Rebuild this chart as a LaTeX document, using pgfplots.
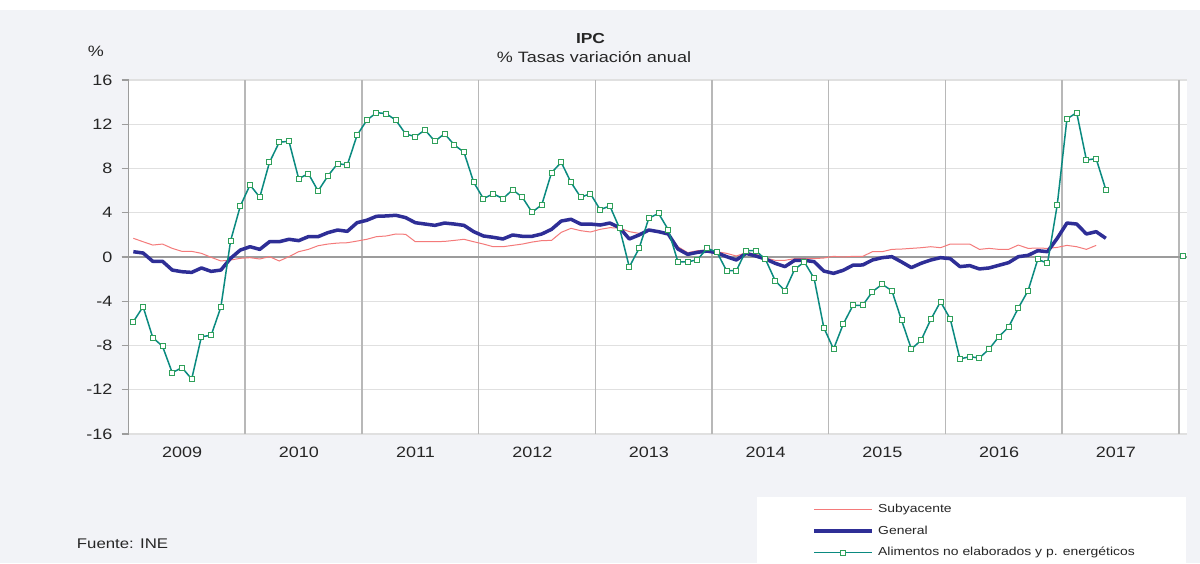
\documentclass[border=0pt]{standalone}
\usepackage{fontspec}
\setmainfont{Liberation Sans}[FakeStretch=1.2]
\usepackage{pgfplots}
\usepackage{pgfplotstable}
\pgfplotsset{compat=1.18}
\definecolor{bgc}{HTML}{F2F3F7}
\definecolor{alic}{HTML}{0A8A80}
\definecolor{alimk}{HTML}{2FA05A}
\definecolor{genc}{HTML}{2E2E96}
\definecolor{subc}{HTML}{F47A7A}
\definecolor{gridc}{HTML}{E0E0E0}
\definecolor{yearc}{HTML}{B8B8B8}
\definecolor{zeroc}{HTML}{9C9C9C}
\definecolor{txt}{HTML}{262626}

\pgfplotstableread{
m sub gen ali
0 1.69 0.48 -5.85
1 1.38 0.36 -4.49
2 1.08 -0.39 -7.29
3 1.17 -0.39 -8.07
4 0.78 -1.18 -10.46
5 0.51 -1.33 -10.0
6 0.51 -1.39 -11.03
7 0.33 -0.99 -7.2
8 -0.03 -1.30 -7.08
9 -0.36 -1.18 -4.52
10 -0.27 -0.12 1.47
11 -0.12 0.63 4.61
12 -0.06 0.93 6.51
13 -0.18 0.69 5.40
14 0.03 1.38 8.56
15 -0.36 1.38 10.37
16 0.03 1.60 10.46
17 0.48 1.48 7.08
18 0.69 1.84 7.53
19 1.02 1.84 5.97
20 1.17 2.20 7.32
21 1.26 2.44 8.44
22 1.29 2.32 8.32
23 1.44 3.10 11.0
24 1.6 3.32 12.36
25 1.84 3.68 13.05
26 1.9 3.71 12.96
27 2.08 3.77 12.36
28 2.05 3.56 11.12
29 1.38 3.1 10.88
30 1.38 2.98 11.48
31 1.38 2.86 10.46
32 1.41 3.07 11.15
33 1.5 2.98 10.13
34 1.6 2.86 9.47
35 1.38 2.29 6.75
36 1.17 1.9 5.27
37 0.93 1.78 5.72
38 0.93 1.63 5.27
39 1.05 1.99 6.08
40 1.17 1.87 5.40
41 1.35 1.87 4.04
42 1.48 2.08 4.73
43 1.5 2.5 7.62
44 2.23 3.25 8.56
45 2.59 3.41 6.75
46 2.38 2.98 5.40
47 2.26 2.98 5.72
48 2.5 2.89 4.28
49 2.65 3.07 4.61
50 2.62 2.65 2.59
51 2.29 1.63 -0.9
52 2.14 1.99 0.78
53 2.38 2.44 3.5
54 2.29 2.29 3.95
55 2.14 2.08 2.47
56 0.93 0.72 -0.45
57 0.39 0.24 -0.45
58 0.57 0.42 -0.24
59 0.63 0.54 0.78
60 0.48 0.39 0.45
61 0.33 0.03 -1.24
62 0.09 -0.27 -1.24
63 0.39 0.33 0.57
64 0.27 0.09 0.57
65 -0.09 -0.18 -0.21
66 -0.3 -0.57 -2.14
67 -0.3 -0.87 -3.05
68 -0.15 -0.3 -1.11
69 -0.15 -0.3 -0.45
70 -0.15 -0.42 -1.93
71 -0.09 -1.27 -6.39
72 0.06 -1.48 -8.32
73 0.0 -1.2 -6.06
74 0.06 -0.74 -4.37
75 0.06 -0.72 -4.37
76 0.48 -0.27 -3.13
77 0.48 -0.06 -2.47
78 0.69 0.03 -3.05
79 0.72 -0.45 -5.73
80 0.78 -0.96 -8.32
81 0.84 -0.57 -7.53
82 0.93 -0.27 -5.64
83 0.84 -0.06 -4.04
84 1.17 -0.15 -5.6
85 1.17 -0.87 -9.22
86 1.17 -0.78 -9.01
87 0.69 -1.08 -9.13
88 0.78 -0.99 -8.32
89 0.69 -0.75 -7.2
90 0.69 -0.51 -6.33
91 1.08 0.03 -4.61
92 0.78 0.15 -3.05
93 0.81 0.57 -0.21
94 0.78 0.48 -0.57
95 0.87 1.69 4.70
96 1.05 3.07 12.48
97 0.93 2.98 13.05
98 0.69 2.08 8.77
99 1.05 2.29 8.89
100 nan 1.69 6.08
}\ipcdata

\begin{document}
\begin{tikzpicture}[x=1pt,y=1pt]
\fill[bgc] (0,0) rectangle (1200,563);
\fill[white] (0,553) rectangle (1200,563);
\fill[white] (757,0) rectangle (1186,66.3);
\node[font=\bfseries\fontsize{14.5}{14.5}\selectfont, text=txt, anchor=base, inner sep=0pt] at (590.5,519.7) {IPC};
\node[font=\fontsize{15}{15}\selectfont, text=txt, anchor=base, inner sep=0pt] at (594,500.7) {\% Tasas variación anual};
\node[font=\fontsize{15}{15}\selectfont, text=txt, anchor=base, inner sep=0pt] at (95.8,506.3) {\%};
\node[font=\fontsize{14}{14}\selectfont, text=txt, anchor=base west, inner sep=0pt] at (76.7,14.7) {Fuente: INE};
\begin{axis}[
  at={(128.5pt,129pt)}, anchor=south west,
  scale only axis, width=1058.5pt, height=354pt,
  xmin=2009, xmax=2018.07, ymin=-16, ymax=16,
  axis background/.style={fill=white},
  axis lines*=left,
  axis line style={-},
  x axis line style={draw=none},
  y axis line style={draw=zeroc, line width=1.2pt},
  ytick={-16,-12,...,16},
  yticklabels={-16,-12,-8,-4,0,4,8,12,16},
  xtick={2009.46,2010.46,...,2017.5},
  xticklabels={2009,2010,2011,2012,2013,2014,2015,2016,2017},
  xtick style={draw=none},
  ytick style={draw=zeroc, line width=1.2pt},
  tick align=outside,
  major tick length=7pt,
  ymajorgrids=true,
  major grid style={gridc, line width=1.2pt},
  extra x ticks={2010,2011,...,2018},
  extra x tick labels={},
  extra x tick style={xmajorgrids=true, major grid style={yearc, line width=1.5pt}},
  extra y ticks={0},
  extra y tick labels={},
  extra y tick style={ymajorgrids=true, major grid style={zeroc, line width=1.7pt}},
  yticklabel style={font=\fontsize{15}{15}\selectfont, text=txt, inner sep=0pt, xshift=-9pt},
  xticklabel style={font=\fontsize{15}{15}\selectfont, text=txt, inner sep=0pt, yshift=-6pt},
  legend style={at={(axis description cs:0.6464,-0.1966)}, anchor=north west, draw=none, fill=none, inner sep=0pt, outer sep=0pt, font=\fontsize{11.6}{11.6}\selectfont, text=txt, row sep=9.5pt, column sep=4pt, nodes={inner sep=0pt, text height=9pt, text depth=3pt}},
  legend cell align=left,
  legend image code/.code={\draw[mark repeat=2,mark phase=2,#1] plot coordinates {(0pt,0pt) (29pt,0pt) (58pt,0pt)};},
]
\addplot[subc, line width=1pt, no markers] table[x expr={2009+(\thisrow{m}+0.5)/12}, y=sub] {\ipcdata};
\addlegendentry{Subyacente}
\addplot[genc, line width=3.5pt, no markers, line join=round] table[x expr={2009+(\thisrow{m}+0.5)/12}, y=gen] {\ipcdata};
\addlegendentry{General}
\addplot[alic, line width=1.5pt, mark=square*, mark size=2.5pt, mark options={draw=alimk, fill=white, line width=1pt}] table[x expr={2009+(\thisrow{m}+0.5)/12}, y=ali] {\ipcdata};
\addlegendentry{Alimentos no elaborados y p. energéticos}
\addplot[only marks, mark=square*, mark size=2.5pt, mark options={draw=alimk, fill=white, line width=1pt}, forget plot] coordinates {(2018.04,0.12)};
\end{axis}
\end{tikzpicture}
\end{document}
